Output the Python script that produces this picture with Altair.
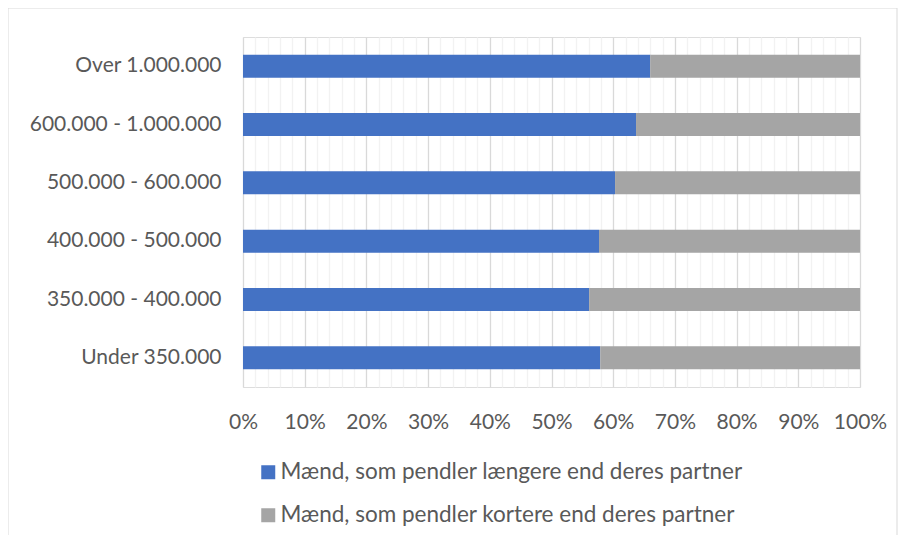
import altair as alt
import pandas as pd

categories = ["Over 1.000.000", "600.000 - 1.000.000", "500.000 - 600.000",
              "400.000 - 500.000", "350.000 - 400.000", "Under 350.000"]
longer_pct = [66.0, 63.7, 60.3, 57.7, 56.1, 57.9]
series_names = ["Mænd, som pendler længere end deres partner",
                "Mænd, som pendler kortere end deres partner"]
series_colors = ["#4472C4", "#A5A5A5"]
grid_values = [i / 100 for i in range(0, 101, 2)]

rows = []
for c, v in zip(categories, longer_pct):
    rows.append({"cat": c, "series": series_names[0], "val": v / 100, "ord": 0})
    rows.append({"cat": c, "series": series_names[1], "val": (100 - v) / 100, "ord": 1})
df = pd.DataFrame(rows)

FONT = "Lato"
FS = 21
TXT = "#595959"

bars = alt.Chart(df).mark_bar(size=23).encode(
    y=alt.Y("cat:N", sort=categories, title=None,
            scale=alt.Scale(paddingInner=0.6, paddingOuter=0.3),
            axis=alt.Axis(domain=False, ticks=False, labelPadding=22, labelLimit=0,
                          labelFontSize=FS, labelColor=TXT, labelFont=FONT)),
    x=alt.X("val:Q", stack="zero", title=None,
            scale=alt.Scale(domain=[0, 1], nice=False),
            axis=alt.Axis(values=grid_values, domain=False, ticks=False,
                          labelExpr="round(datum.value*100) % 10 === 0 ? format(datum.value, '.0%') : ''",
                          labelFontSize=FS, labelColor=TXT, labelFont=FONT, labelPadding=24,
                          labelOverlap=False, labelFlush=False, labelBound=False,
                          grid=True,
                          gridColor=alt.condition("round(datum.value*100) % 10 === 0",
                                                  alt.value("#D9D9D9"), alt.value("#F2F2F2")),
                          gridWidth=1.3)),
    color=alt.Color("series:N", scale=alt.Scale(domain=series_names, range=series_colors),
                    legend=alt.Legend(title=None, orient="none", legendX=14, legendY=424,
                                      direction="vertical", symbolType="square", symbolSize=196,
                                      symbolStrokeWidth=0, labelLimit=0,
                                      labelFontSize=22.5, labelColor=TXT, labelFont=FONT,
                                      rowPadding=20, labelOffset=1)),
    order=alt.Order("ord:Q"),
)

border = alt.Chart(pd.DataFrame({"a": [0]})).mark_rect(
    fill=None, stroke="#D9D9D9", strokeWidth=1, clip=False
).encode(x=alt.value(-235), x2=alt.value(654), y=alt.value(-29), y2=alt.value(499))

chart = alt.layer(border, bars).properties(
    width=617, height=350,
    autosize=alt.AutoSizeParams(type="none"),
    padding={"left": 235, "top": 29, "right": 38, "bottom": 148},
).configure_view(stroke=None).configure(background="white")

chart.save("out.html", embed_options={"renderer": "svg", "actions": False})
